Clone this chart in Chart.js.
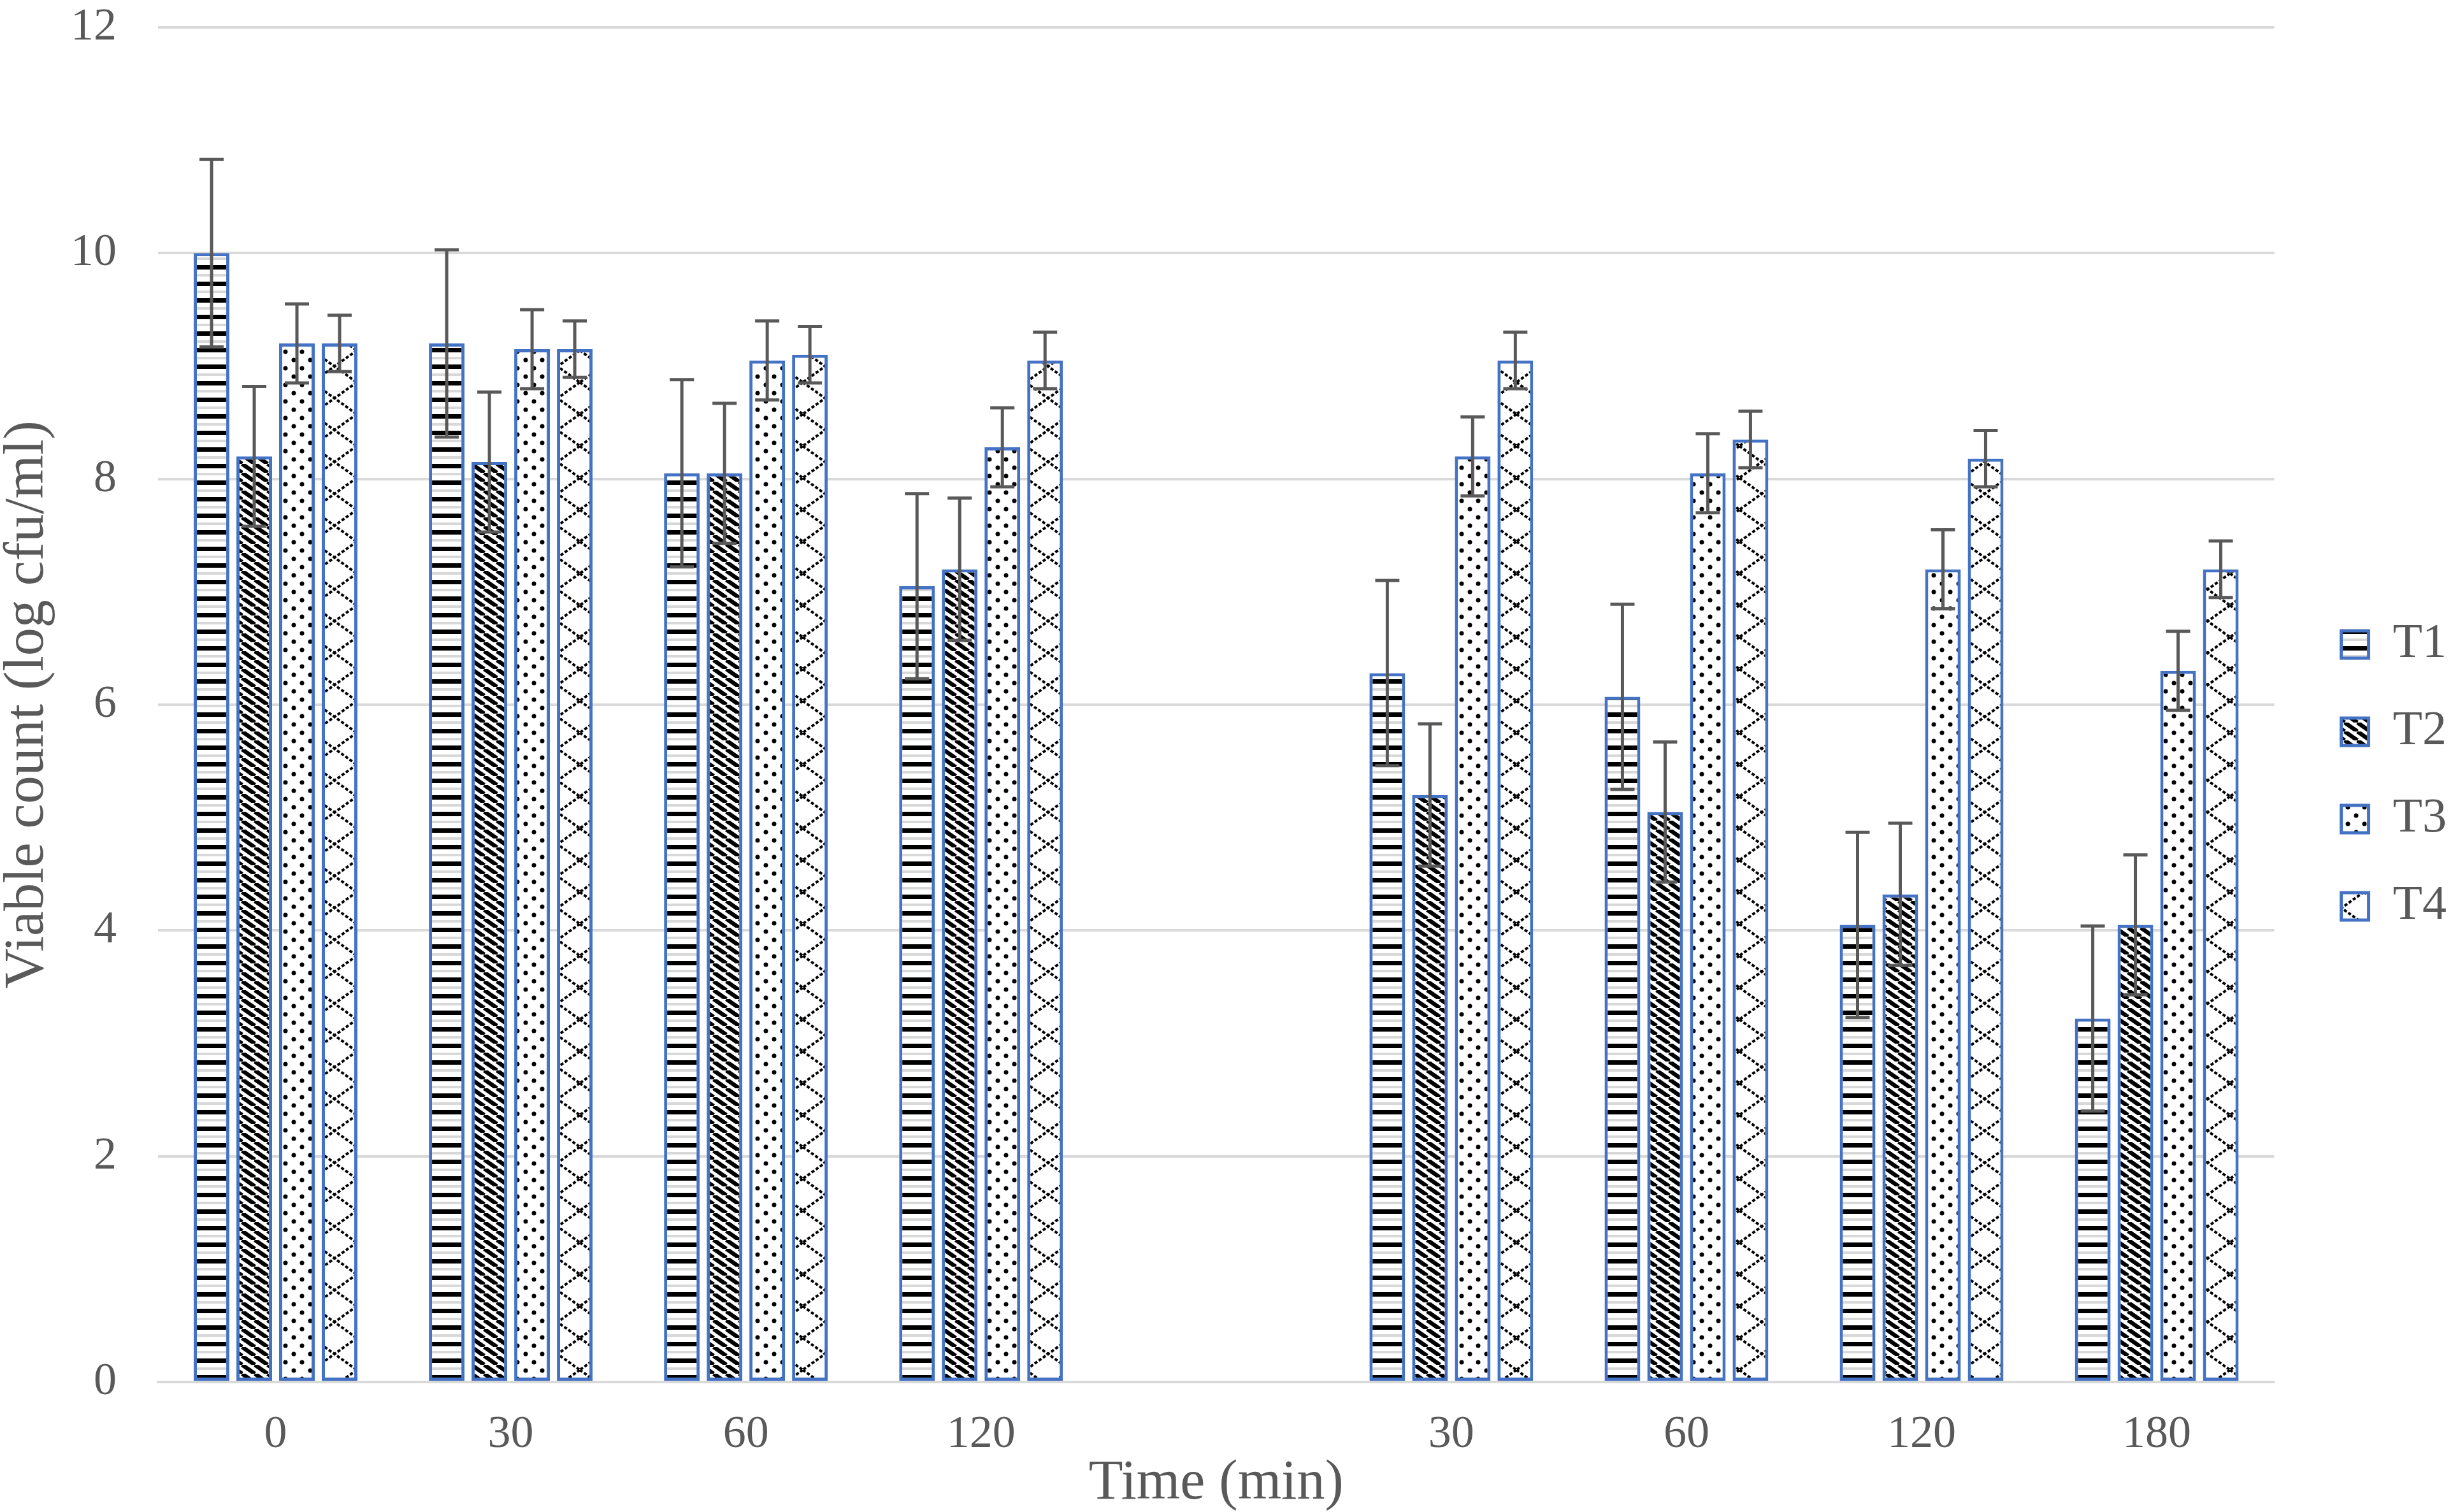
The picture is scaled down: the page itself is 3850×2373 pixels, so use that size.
<!DOCTYPE html>
<html>
<head>
<meta charset="utf-8">
<title>Viable count</title>
<script src="https://cdn.jsdelivr.net/npm/chart.js@4.4.1/dist/chart.umd.min.js"></script>
<style>
    html, body { margin: 0; padding: 0; background: #ffffff; }
    #wrap { width: 3850px; height: 2373px; position: relative; }
</style>
</head>
<body>
<div id="wrap"><canvas id="viableChart"></canvas></div>
<script>
// categories (blank slot separates the two runs)
const timeLabels = ['0', '30', '60', '120', '', '30', '60', '120', '180'];

// viable counts, log cfu/ml
const t1Values = [10.0, 9.2, 8.05, 7.05, null, 6.28, 6.07, 4.05, 3.22];
const t2Values = [8.2, 8.15, 8.05, 7.2, null, 5.2, 5.05, 4.32, 4.05];
const t3Values = [9.2, 9.15, 9.05, 8.28, null, 8.2, 8.05, 7.2, 6.3];
const t4Values = [9.2, 9.15, 9.1, 9.05, null, 9.05, 8.35, 8.18, 7.2];

// error bar half-lengths
const t1Errors = [0.83, 0.83, 0.83, 0.82, null, 0.82, 0.82, 0.82, 0.82];
const t2Errors = [0.62, 0.62, 0.62, 0.63, null, 0.63, 0.62, 0.63, 0.62];
const t3Errors = [0.35, 0.35, 0.35, 0.35, null, 0.35, 0.35, 0.35, 0.35];
const t4Errors = [0.25, 0.25, 0.25, 0.25, null, 0.25, 0.25, 0.25, 0.25];

const yTickValues = [0, 2, 4, 6, 8, 10, 12];

const TEXT = '#595959';
const FONT = "'Liberation Serif', 'Times New Roman', serif";

function makePattern(kind) {
    const tile = document.createElement('canvas');
    const c = tile.getContext('2d');
    if (kind === 'hlines') {
        tile.width = 26; tile.height = 26;
        c.fillStyle = '#fff'; c.fillRect(0, 0, 26, 26);
        c.fillStyle = '#000'; c.fillRect(0, 0, 26, 7);
        c.fillStyle = '#d8d8d8'; c.fillRect(0, 14, 26, 4);
    } else if (kind === 'diag') {
        tile.width = 20; tile.height = 14;
        c.fillStyle = '#fff'; c.fillRect(0, 0, 20, 14);
        c.strokeStyle = '#000'; c.lineWidth = 6.5;
        for (let k = -1; k <= 1; k++) {
            c.beginPath();
            c.moveTo(k * 20, 0);
            c.lineTo(k * 20 + 20, 14);
            c.stroke();
        }
    } else if (kind === 'dots') {
        tile.width = 26; tile.height = 26;
        c.fillStyle = '#fff'; c.fillRect(0, 0, 26, 26);
        c.fillStyle = '#000';
        [[6, 6], [19, 19]].forEach(([x, y]) => {
            c.beginPath(); c.arc(x, y, 3.5, 0, Math.PI * 2); c.fill();
        });
    } else {
        tile.width = 70; tile.height = 50;
        c.fillStyle = '#fff'; c.fillRect(0, 0, 70, 50);
        c.strokeStyle = '#000'; c.lineWidth = 4;
        c.setLineDash([5, 3]);
        for (let k = -1; k <= 1; k++) {
            c.beginPath(); c.moveTo(k * 70, 0); c.lineTo(k * 70 + 70, 50); c.stroke();
            c.beginPath(); c.moveTo(k * 70 + 70, 0); c.lineTo(k * 70, 50); c.stroke();
        }
    }
    return c.createPattern(tile, 'repeat');
}

// error bars drawn on top of the bars, from the y scale
const errorBarPlugin = {
    id: 'errorBars',
    afterDatasetsDraw(chart) {
        const ctx = chart.ctx;
        const yScale = chart.scales.y;
        ctx.save();
        ctx.strokeStyle = '#595959';
        ctx.lineWidth = 5;
        chart.data.datasets.forEach((ds, di) => {
            const meta = chart.getDatasetMeta(di);
            if (meta.hidden) return;
            meta.data.forEach((bar, i) => {
                const v = ds.data[i];
                const e = ds.errors[i];
                if (v == null || e == null) return;
                const top = yScale.getPixelForValue(v + e);
                const bot = yScale.getPixelForValue(v - e);
                const x = bar.x;
                ctx.beginPath();
                ctx.moveTo(x, top); ctx.lineTo(x, bot);
                ctx.moveTo(x - 19, top); ctx.lineTo(x + 19, top);
                ctx.moveTo(x - 19, bot); ctx.lineTo(x + 19, bot);
                ctx.stroke();
            });
        });
        ctx.restore();
    }
};

function barSet(label, values, errors, kind) {
    return {
        label,
        data: values,
        errors,
        backgroundColor: makePattern(kind),
        borderColor: '#4472C4',
        borderWidth: 5,
        borderSkipped: false,
        categoryPercentage: 0.726,
        barPercentage: 0.836
    };
}

document.addEventListener('DOMContentLoaded', () => {
    const ctx = document.getElementById('viableChart').getContext('2d');
    new Chart(ctx, {
        type: 'bar',
        data: {
            labels: timeLabels,
            datasets: [
                barSet('T1', t1Values, t1Errors, 'hlines'),
                barSet('T2', t2Values, t2Errors, 'diag'),
                barSet('T3', t3Values, t3Errors, 'dots'),
                barSet('T4', t4Values, t4Errors, 'cross')
            ]
        },
        options: {
            responsive: true,
            maintainAspectRatio: false,
            devicePixelRatio: 1,
            animation: false,
            layout: { padding: { top: 43, right: 0, left: 0, bottom: 0 } },
            plugins: {
                tooltip: { enabled: false },
                legend: {
                    position: 'right',
                    title: { display: true, text: '', padding: 0, font: { size: 18, lineHeight: 1 } },
                    labels: {
                        color: TEXT,
                        font: { family: FONT, size: 76, lineHeight: 1 },
                        boxWidth: 43,
                        boxHeight: 43,
                        padding: 61
                    }
                }
            },
            scales: {
                x: {
                    grid: { display: false, drawTicks: false },
                    border: { display: true, color: '#D9D9D9', width: 4 },
                    ticks: {
                        color: TEXT,
                        font: { family: FONT, size: 72, lineHeight: 1 },
                        padding: 47,
                        maxRotation: 0,
                        autoSkip: false
                    },
                    title: {
                        display: true,
                        text: 'Time (min)',
                        color: TEXT,
                        font: { family: FONT, size: 88, lineHeight: 1 },
                        padding: 0
                    },
                    afterFit: (scale) => {
                        scale.height = 204;
                        scale.paddingLeft = 0;
                        scale.paddingRight = 0;
                    }
                },
                y: {
                    min: 0,
                    max: 12,
                    afterBuildTicks: (scale) => {
                        scale.ticks = yTickValues.map(v => ({ value: v }));
                    },
                    grid: { color: '#D9D9D9', lineWidth: 4, drawTicks: false },
                    border: { display: false },
                    ticks: {
                        color: TEXT,
                        font: { family: FONT, size: 72, lineHeight: 1 },
                        padding: 65
                    },
                    title: {
                        display: true,
                        text: 'Viable count (log cfu/ml)',
                        color: TEXT,
                        font: { family: FONT, size: 88, lineHeight: 1 },
                        padding: 0
                    },
                    afterFit: (scale) => {
                        scale.width = 248;
                        scale.paddingTop = 0;
                        scale.paddingBottom = 0;
                    }
                },
                // empty strip that keeps the legend clear of the plot
                legendGap: {
                    type: 'linear',
                    position: 'right',
                    grid: { display: false },
                    border: { display: false },
                    ticks: { display: false },
                    afterFit: (scale) => {
                        scale.width = 44;
                    }
                }
            }
        },
        plugins: [errorBarPlugin]
    });
});
</script>
</body>
</html>
